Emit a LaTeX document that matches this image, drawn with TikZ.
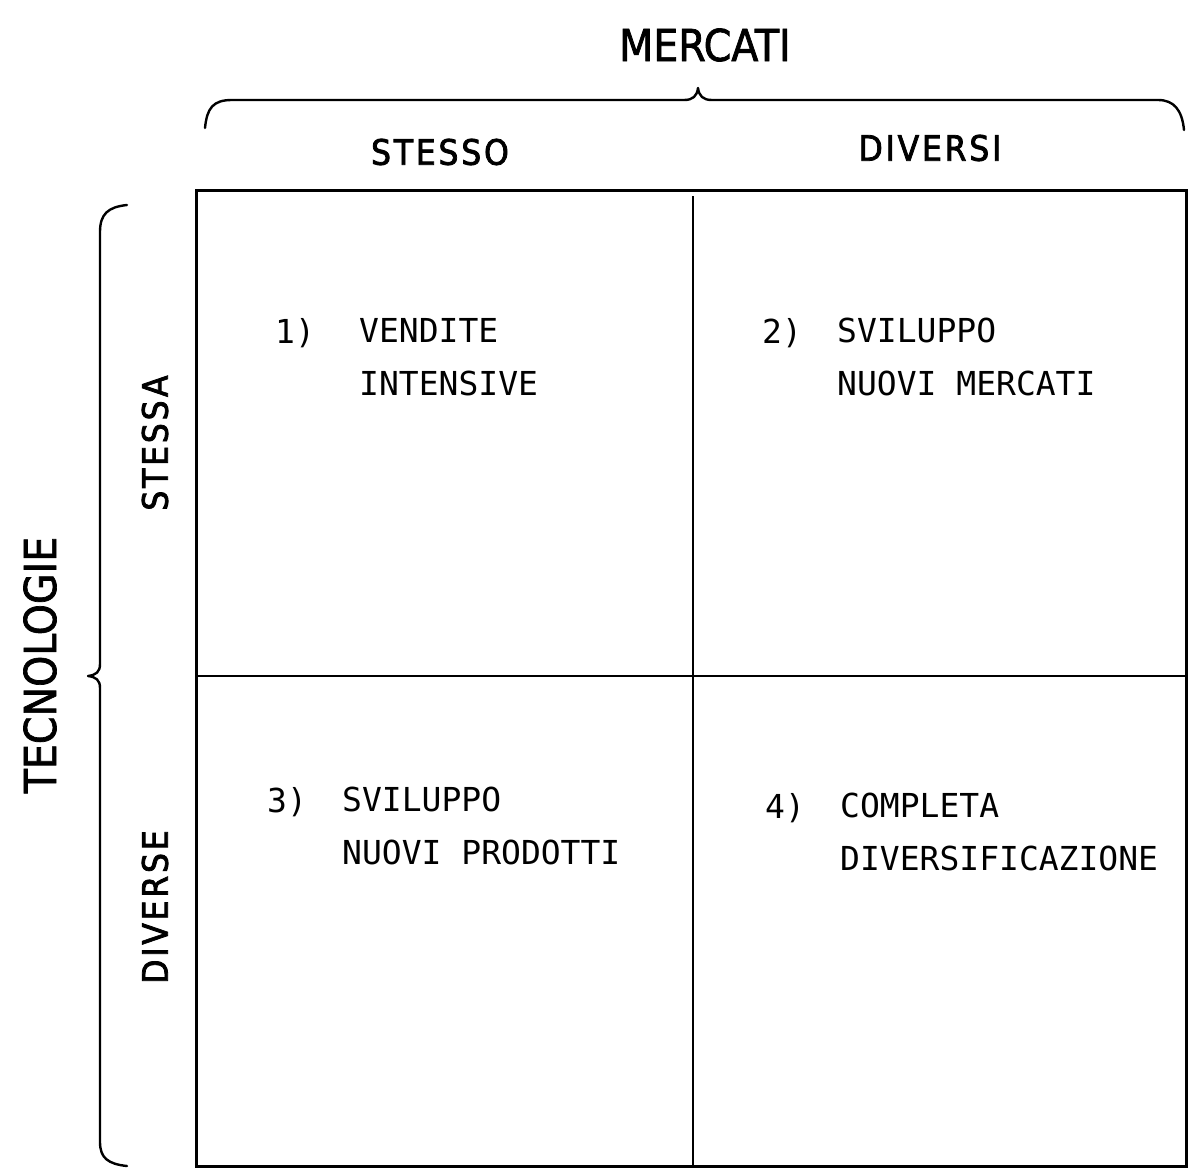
\documentclass[tikz,border=0pt]{standalone}
\usepackage{fontspec}
\newfontfamily\cellfont{DejaVu Sans Mono}
\newfontfamily\headfont{DejaVu Sans Condensed}[FakeBold=1.6]
\newfontfamily\subheadfont{DejaVu Sans Condensed}[FakeBold=2.2,LetterSpace=8]
\begin{document}
\begin{tikzpicture}[x=1pt,y=-1pt,
  frame/.style={line width=3pt},
  divider/.style={line width=2.2pt},
  bracket/.style={line width=2.4pt, line cap=round, line join=round},
  axislabel/.style={font=\fontsize{44}{50}\selectfont\headfont, inner sep=0},
  headlabel/.style={font=\fontsize{35}{40}\selectfont\subheadfont, inner sep=0},
  numlabel/.style={font=\fontsize{33}{53}\selectfont\cellfont, inner sep=0, anchor=north west},
  celltext/.style={numlabel, align=left}]
\useasboundingbox (0,0) rectangle (1190,1172);

% grid corners and dividers
\coordinate (NW) at (196,190);
\coordinate (SE) at (1186,1166);
\coordinate (Ntop) at (693,196);
\coordinate (Nbot) at (693,1166);
\coordinate (Wmid) at (196,676);
\coordinate (Emid) at (1186,676);
\draw[frame] (NW) rectangle (SE);
\draw[divider] (Ntop) -- (Nbot);
\draw[divider] (Wmid) -- (Emid);

% top brace
\draw[bracket] (205,128) .. controls (207,108) and (213,100) .. (232,100)
  -- (684,100) .. controls (693,100) and (697,96) .. (698,88)
  .. controls (699,96) and (703,100) .. (712,100)
  -- (1158,100) .. controls (1174,100) and (1182,110) .. (1184,130);

% left brace
\draw[bracket] (127,205) .. controls (108,207) and (100,214) .. (100,232)
  -- (100,664) .. controls (100,672) and (96,675) .. (88,676)
  .. controls (96,677) and (100,680) .. (100,688)
  -- (100,1142) .. controls (100,1158) and (108,1164) .. (127,1166);

% axis titles
\node[axislabel] (mercati) at (705,45) {MERCATI};
\node[axislabel, rotate=90] (tecnologie) at (40,665) {TECNOLOGIE};

% column and row headings
\node[headlabel] (stesso) at (440,152) {STESSO};
\node[headlabel] (diversi) at (930,148) {DIVERSI};
\node[headlabel, rotate=90] (stessa) at (155,443) {STESSA};
\node[headlabel, rotate=90] (diverse) at (155,907) {DIVERSE};

% quadrant contents
\node[numlabel] (n1) at (275,318) {1)};
\node[celltext] (q1) at (359,318) {VENDITE\\INTENSIVE};
\node[numlabel] (n2) at (762,318) {2)};
\node[celltext] (q2) at (837,318) {SVILUPPO\\NUOVI MERCATI};
\node[numlabel] (n3) at (267,787) {3)};
\node[celltext] (q3) at (342,787) {SVILUPPO\\NUOVI PRODOTTI};
\node[numlabel] (n4) at (765,793) {4)};
\node[celltext] (q4) at (840,793) {COMPLETA\\DIVERSIFICAZIONE};
\end{tikzpicture}
\end{document}
